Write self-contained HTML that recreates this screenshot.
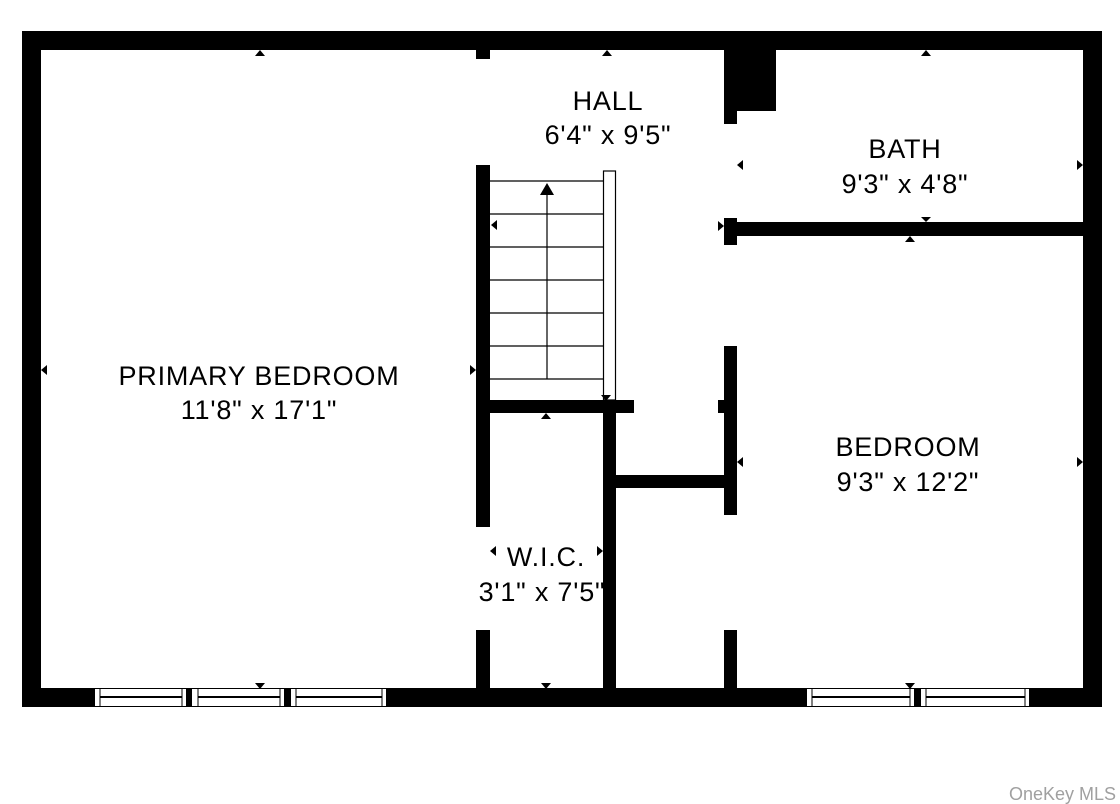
<!DOCTYPE html>
<html><head><meta charset="utf-8"><style>
html,body{margin:0;padding:0;background:#fff;}
svg{display:block;}
text{font-family:"Liberation Sans",Arial,sans-serif;fill:#000;}
</style></head><body>
<svg width="1120" height="804" viewBox="0 0 1120 804" xmlns="http://www.w3.org/2000/svg">
<rect x="0" y="0" width="1120" height="804" fill="#fff"/>
<rect x="22" y="31" width="1080" height="19" fill="#000"/>
<rect x="22" y="688" width="1080" height="19" fill="#000"/>
<rect x="22" y="31" width="19" height="676" fill="#000"/>
<rect x="1083" y="31" width="19" height="676" fill="#000"/>
<rect x="476" y="50" width="14" height="9" fill="#000"/>
<rect x="476" y="165" width="14" height="362" fill="#000"/>
<rect x="476" y="630" width="14" height="58" fill="#000"/>
<rect x="476" y="400" width="158" height="13" fill="#000"/>
<rect x="603" y="400" width="13" height="288" fill="#000"/>
<rect x="616" y="475" width="108" height="13" fill="#000"/>
<rect x="724" y="346" width="13" height="169" fill="#000"/>
<rect x="718" y="400" width="6" height="13" fill="#000"/>
<rect x="724" y="630" width="13" height="58" fill="#000"/>
<rect x="724" y="50" width="52" height="61" fill="#000"/>
<rect x="724" y="50" width="13" height="74" fill="#000"/>
<rect x="724" y="218" width="13" height="27" fill="#000"/>
<rect x="724" y="222" width="360" height="14" fill="#000"/>
<g stroke="#000" stroke-width="1.2">
<line x1="490" y1="181" x2="603" y2="181"/>
<line x1="490" y1="214" x2="603" y2="214"/>
<line x1="490" y1="247" x2="603" y2="247"/>
<line x1="490" y1="280" x2="603" y2="280"/>
<line x1="490" y1="313" x2="603" y2="313"/>
<line x1="490" y1="346" x2="603" y2="346"/>
<line x1="490" y1="379" x2="603" y2="379"/>
<line x1="547" y1="190" x2="547" y2="379"/>
</g>
<rect x="603.5" y="171" width="12" height="229" fill="#fff" stroke="#000" stroke-width="1.2"/>
<polygon points="540,195 554,195 547,183" fill="#000"/>
<polygon points="601,395 611,395 606,401" fill="#000"/>
<g fill="#fff" stroke="#000" stroke-width="1">
<rect x="94.5" y="688.5" width="92" height="18"/>
<rect x="191.5" y="688.5" width="93" height="18"/>
<rect x="290.5" y="688.5" width="96" height="18"/>
<rect x="806.5" y="688.5" width="108" height="18"/>
<rect x="920.5" y="688.5" width="109" height="18"/>
</g>
<g stroke="#000" stroke-width="1">
<line x1="100" y1="697" x2="182" y2="697" stroke-width="2"/>
<line x1="198" y1="697" x2="280" y2="697" stroke-width="2"/>
<line x1="296" y1="697" x2="382" y2="697" stroke-width="2"/>
<line x1="812" y1="697" x2="910" y2="697" stroke-width="2"/>
<line x1="926" y1="697" x2="1025" y2="697" stroke-width="2"/>
<line x1="100" y1="689" x2="100" y2="706"/><line x1="182" y1="689" x2="182" y2="706"/>
<line x1="198" y1="689" x2="198" y2="706"/><line x1="280" y1="689" x2="280" y2="706"/>
<line x1="296" y1="689" x2="296" y2="706"/><line x1="382" y1="689" x2="382" y2="706"/>
<line x1="812" y1="689" x2="812" y2="706"/><line x1="910" y1="689" x2="910" y2="706"/>
<line x1="926" y1="689" x2="926" y2="706"/><line x1="1025" y1="689" x2="1025" y2="706"/>
</g>
<g fill="#000">
<polygon points="255,56 265,56 260,50"/>
<polygon points="602,56 612,56 607,50"/>
<polygon points="921,56 931,56 926,50"/>
<polygon points="255,683 265,683 260,689"/>
<polygon points="541,683 551,683 546,689"/>
<polygon points="905,683 915,683 910,689"/>
<polygon points="47,365 47,375 41,370"/>
<polygon points="470,365 470,375 476,370"/>
<polygon points="497,220 497,230 491,225"/>
<polygon points="743,160 743,170 737,165"/>
<polygon points="1077,160 1077,170 1083,165"/>
<polygon points="718,221 718,231 724,226"/>
<polygon points="921,217 931,217 926,222"/>
<polygon points="905,242 915,242 910,236"/>
<polygon points="541,419 551,419 546,413"/>
<polygon points="743,457 743,467 737,462"/>
<polygon points="1077,457 1077,467 1083,462"/>
<polygon points="496,546 496,556 490,551"/>
<polygon points="597,546 597,556 603,551"/>
</g>
<g font-size="27" text-anchor="middle" letter-spacing="0.8">
<text x="608" y="110">HALL</text>
<text x="608" y="144">6'4" x 9'5"</text>
<text x="905" y="158">BATH</text>
<text x="905" y="193">9'3" x 4'8"</text>
<text x="259" y="385">PRIMARY BEDROOM</text>
<text x="259" y="419">11'8" x 17'1"</text>
<text x="908" y="456">BEDROOM</text>
<text x="908" y="491">9'3" x 12'2"</text>
<text x="546" y="566">W.I.C.</text>
<text x="542" y="601">3'1" x 7'5"</text>
</g>
<text x="1116" y="800" font-size="18" text-anchor="end" style="fill:#a0a0a0">OneKey MLS</text>
</svg>
</body></html>
